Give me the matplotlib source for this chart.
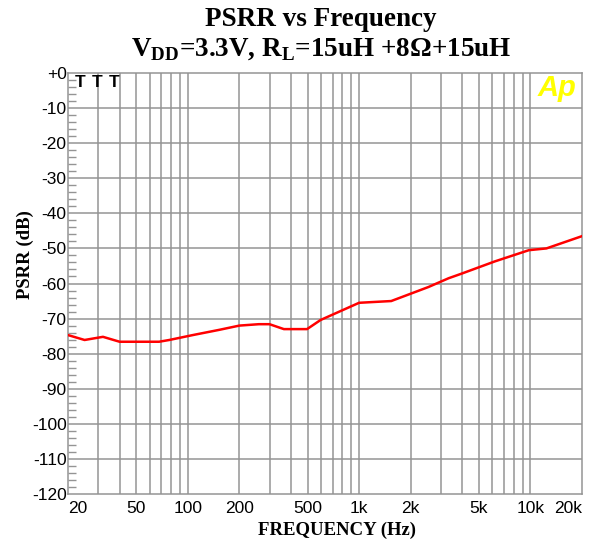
import numpy as np
import matplotlib.pyplot as plt
from matplotlib.ticker import FixedLocator, NullFormatter

plt.rcParams['mathtext.fontset'] = 'custom'
plt.rcParams['mathtext.rm'] = 'Liberation Serif'
plt.rcParams['mathtext.bf'] = 'Liberation Serif:bold'

# PSRR curve
freq = [20, 25, 32, 40, 68, 78, 107, 153, 200, 260, 300, 364, 497, 596,
        1000, 1540, 2540, 3330, 3960, 6200, 9800, 12400, 20000]
psrr = [-74.7, -76.1, -75.2, -76.6, -76.6, -76.1, -74.7, -73.2, -72.0, -71.6,
        -71.6, -73.0, -73.0, -70.4, -65.5, -65.0, -61.0, -58.5, -57.2, -53.7,
        -50.5, -50.0, -46.5]

x_ticks = [20, 50, 100, 200, 500, 1000, 2000, 5000, 10000, 20000]
x_labels = ['20', '50', '100', '200', '500', '1k', '2k', '5k', '10k', '20k']
x_grid = [30, 40, 50, 60, 70, 80, 90, 100, 200, 300, 400, 500, 600, 700, 800, 900,
          1000, 2000, 3000, 4000, 5000, 6000, 7000, 8000, 9000, 10000]
y_ticks = list(range(0, -130, -10))
y_labels = ['+0'] + [str(v) for v in y_ticks[1:]]

grid_col = '#949494'

fig = plt.figure(figsize=(5.92, 5.46), dpi=100)
ax = fig.add_axes([68 / 592, 1 - 494 / 546, 514 / 592, 421 / 546])

ax.set_xscale('log')
ax.set_xlim(20, 20000)
ax.set_ylim(-120, 0)

# grid lines
for g in x_grid:
    ax.axvline(g, color=grid_col, lw=1.1, zorder=1)
for g in y_ticks[1:-1]:
    ax.axhline(g, color=grid_col, lw=1.1, zorder=1)

ax.plot(freq, psrr, color='red', lw=1.8, zorder=3)

for s in ax.spines.values():
    s.set_color(grid_col)
    s.set_linewidth(1.1)

ax.xaxis.set_major_locator(FixedLocator(x_ticks))
ax.xaxis.set_minor_locator(FixedLocator([]))
ax.xaxis.set_minor_formatter(NullFormatter())
ax.set_xticklabels(x_labels)
ax.tick_params(axis='x', length=0, pad=5, labelsize=12.5)
for lab in ax.get_xticklabels():
    lab.set_fontfamily('Liberation Sans')
ax.get_xticklabels()[0].set_horizontalalignment('left')
ax.get_xticklabels()[-1].set_horizontalalignment('right')

ax.set_yticks(y_ticks)
ax.set_yticklabels(y_labels)
ax.yaxis.set_minor_locator(FixedLocator(np.arange(-118, 0, 2)))
ax.tick_params(axis='y', which='major', length=0, pad=1, labelsize=12.5)
ax.tick_params(axis='y', which='minor', direction='in', length=6,
               color=grid_col, width=1)
for lab in ax.get_yticklabels():
    lab.set_fontfamily('Liberation Sans')

# AP markers and logo
for xt in [23.5, 29.5, 37]:
    ax.text(xt, -0.6, 'T', ha='center', va='top', fontsize=12.5,
            fontweight='bold', family='Liberation Sans', zorder=4)
ax.text(18500, -0.3, 'Ap', ha='right', va='top', fontsize=21, color='#ffff00',
        fontweight='bold', fontstyle='italic', family='Liberation Sans', zorder=4)

fig.text(321 / 592, 1 - 19 / 546, 'PSRR vs Frequency', ha='center', va='center',
         fontsize=19.5, fontweight='bold', family='Liberation Serif')
fig.text(321 / 592, 1 - 49 / 546,
         r'V$_{\mathbf{DD}}$=3.3V, R$_{\mathbf{L}}$=15uH +8$\mathbf{\Omega}$+15uH',
         ha='center', va='center', fontsize=19.5, fontweight='bold',
         family='Liberation Serif')

fig.text(337 / 592, 1 - 530 / 546, 'FREQUENCY (Hz)', ha='center', va='center',
         fontsize=13.5, fontweight='bold', family='Liberation Serif')
fig.text(25 / 592, 1 - 255 / 546, 'PSRR (dB)', ha='center', va='center',
         rotation=90, fontsize=13.5, fontweight='bold', family='Liberation Serif')

fig.savefig('out.png', dpi=100)
